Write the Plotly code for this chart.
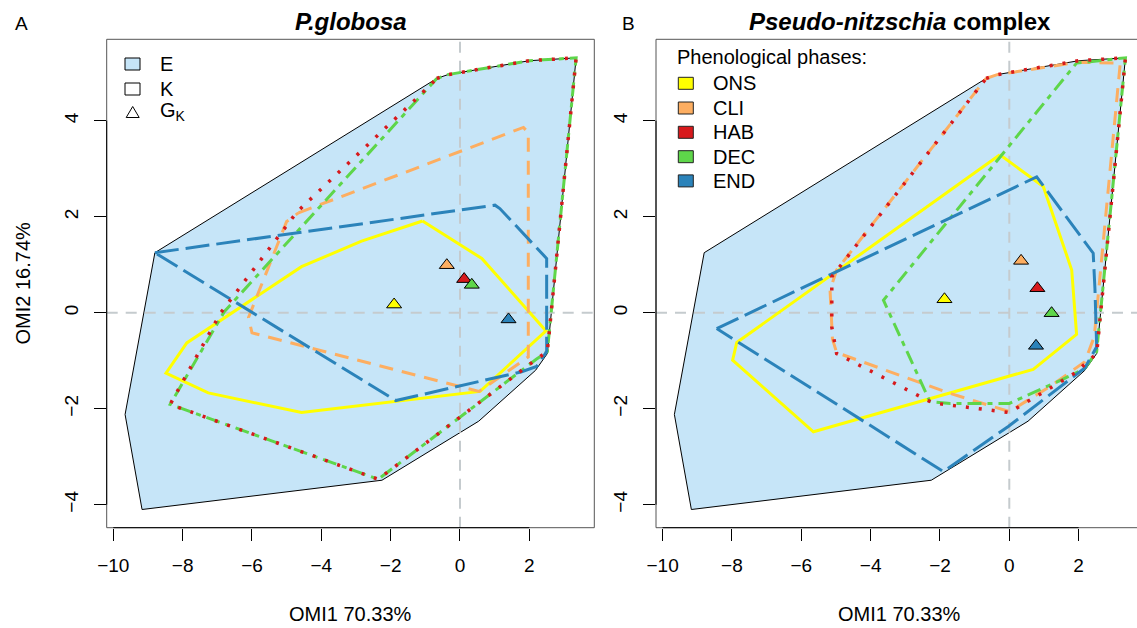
import plotly.graph_objects as go

W, H = 1137, 628
FONT = "Liberation Sans, Arial, sans-serif"

# ---------------- data ----------------
phases = ["ONS", "CLI", "HAB", "DEC", "END"]
phase_colors = ["#FFFF00", "#FDAE61", "#D7191C", "#5ED64A", "#2B83BA"]

# environmental hull E (same on both panels)
E_x = [-8.80, -0.67, -0.35, 2.00, 3.35, 2.52, 2.18, 0.54, -2.25, -9.17, -9.66]
E_y = [1.25, 4.88, 4.96, 5.25, 5.31, -0.85, -1.20, -2.26, -3.49, -4.10, -2.12]

# Panel A (P.globosa) niche hulls K
A_ONS_x = [-1.08, 0.63, 2.48, 0.58, -4.57, -7.26, -8.48, -7.88, -4.57, -2.84]
A_ONS_y = [1.91, 1.13, -0.38, -1.64, -2.08, -1.67, -1.26, -0.63, 0.96, 1.49]
A_CLI_x = [-4.66, 1.83, 1.97, 1.97, 0.55, -6.00, -6.10, -5.00]
A_CLI_y = [2.08, 3.86, 3.75, -0.92, -1.64, -0.42, -0.10, 1.90]
A_HAB_x = [-0.67, -0.35, 2.00, 3.35, 2.52, 2.20, -2.36, -8.36, -6.90, -4.70, -1.20]
A_HAB_y = [4.88, 4.96, 5.25, 5.31, -0.81, -0.97, -3.47, -1.91, 0.00, 2.10, 4.50]
A_DEC_x = [-0.67, -0.35, 2.00, 3.35, 2.52, 2.20, -2.36, -8.36, -6.80, -1.10]
A_DEC_y = [4.88, 4.96, 5.25, 5.31, -0.81, -0.97, -3.47, -1.91, 0.02, 4.54]
A_END_x = [-8.80, 1.01, 1.15, 2.50, 2.50, 2.21, 1.78, -1.85]
A_END_y = [1.25, 2.24, 2.17, 1.13, -0.81, -1.12, -1.23, -1.83]
A_GK_x = [-1.90, -0.38, 0.12, 0.34, 1.40]
A_GK_y = [0.17, 0.99, 0.70, 0.58, -0.14]

# Panel B (Pseudo-nitzschia complex) niche hulls K
B_ONS_x = [-0.27, 0.98, 1.80, 1.94, 0.69, -5.65, -7.98, -7.86]
B_ONS_y = [3.29, 2.63, 0.89, -0.45, -1.18, -2.48, -0.99, -0.62]
B_CLI_x = [-0.67, -0.35, 2.00, 3.20, 2.45, 2.18, 1.17, 0.00, -1.71, -4.98, -5.10, -5.17, -4.98]
B_CLI_y = [4.88, 4.96, 5.22, 5.20, -0.50, -1.02, -1.54, -2.06, -1.68, -0.83, -0.55, 0.47, 0.89]
B_HAB_x = [-0.67, -0.35, 2.00, 3.35, 2.52, 1.89, 0.00, -2.21, -4.98, -5.12, -5.12, -4.90]
B_HAB_y = [4.88, 4.96, 5.25, 5.31, -0.85, -1.26, -2.08, -1.88, -0.85, -0.30, 0.75, 0.95]
B_DEC_x = [1.94, 3.35, 2.52, 2.18, 1.51, 0.00, -1.71, -2.29, -3.63]
B_DEC_y = [5.20, 5.31, -0.81, -1.16, -1.40, -1.89, -1.89, -1.85, 0.26]
B_END_x = [-8.44, 0.79, 2.42, 2.47, 2.52, 2.18, -0.03, -1.90]
B_END_y = [-0.33, 2.83, 1.24, 0.50, -0.71, -1.15, -2.37, -3.31]
B_GK_x = [-1.87, 0.34, 0.81, 1.22, 0.77]
B_GK_y = [0.28, 1.08, 0.51, -0.01, -0.69]

x_ticks = [-10, -8, -6, -4, -2, 0, 2]
y_ticks = [-4, -2, 0, 2, 4]
x_label = "OMI1 70.33%"
y_label = "OMI2 16.74%"
titles = ["<b><i>P.globosa</i></b>", "<b><i>Pseudo-nitzschia</i> complex</b>"]
legend_A = ["E", "K", "G<sub>K</sub>"]
legend_B_title = "Phenological phases:"

# ---------------- layout geometry (pixels) ----------------
def px(x):
    return x / W

def py(y):
    return 1 - y / H

PL = [(106.7, 594.3), (656.0, 1137.0)]
PT, PB = 39.3, 527.7
XR = [[-10.19, 3.874], [-10.19, 3.683]]
YR = [-4.479, 5.696]

styles = {
    "ONS": dict(width=3, dash="solid"),
    "CLI": dict(width=3, dash="14px,9px"),
    "HAB": dict(width=3.5, dash="3px,10px"),
    "DEC": dict(width=3, dash="5px,6px,14px,6px"),
    "END": dict(width=3, dash="24px,7px"),
}
draw_order = ["ONS", "CLI", "DEC", "END", "HAB"]

panels = [
    dict(K={"ONS": (A_ONS_x, A_ONS_y), "CLI": (A_CLI_x, A_CLI_y), "HAB": (A_HAB_x, A_HAB_y),
            "DEC": (A_DEC_x, A_DEC_y), "END": (A_END_x, A_END_y)}, G=(A_GK_x, A_GK_y)),
    dict(K={"ONS": (B_ONS_x, B_ONS_y), "CLI": (B_CLI_x, B_CLI_y), "HAB": (B_HAB_x, B_HAB_y),
            "DEC": (B_DEC_x, B_DEC_y), "END": (B_END_x, B_END_y)}, G=(B_GK_x, B_GK_y)),
]

fig = go.Figure()


def close(v):
    return list(v) + [v[0]]


for i, p in enumerate(panels):
    xa = "x" if i == 0 else "x2"
    ya = "y" if i == 0 else "y2"
    # environmental hull
    fig.add_trace(go.Scatter(x=close(E_x), y=close(E_y), mode="lines", fill="toself",
                             fillcolor="#C6E5F8", line=dict(color="black", width=1),
                             xaxis=xa, yaxis=ya, hoverinfo="skip"))
    # reference lines at 0
    fig.add_trace(go.Scatter(x=[XR[i][0], XR[i][1]], y=[0, 0], mode="lines",
                             line=dict(color="#C5CBCE", width=2, dash="11px,8px"),
                             xaxis=xa, yaxis=ya, hoverinfo="skip"))
    fig.add_trace(go.Scatter(x=[0, 0], y=[YR[0], YR[1]], mode="lines",
                             line=dict(color="#C5CBCE", width=2, dash="11px,8px"),
                             xaxis=xa, yaxis=ya, hoverinfo="skip"))
    for ph in draw_order:
        kx, ky = p["K"][ph]
        col = phase_colors[phases.index(ph)]
        fig.add_trace(go.Scatter(x=close(kx), y=close(ky), mode="lines",
                                 line=dict(color=col, **styles[ph]),
                                 xaxis=xa, yaxis=ya, hoverinfo="skip"))
    gx, gy = p["G"]
    fig.add_trace(go.Scatter(x=gx, y=gy, mode="markers",
                             marker=dict(symbol="triangle-up", size=13, color=phase_colors,
                                         line=dict(color="black", width=1)),
                             xaxis=xa, yaxis=ya, hoverinfo="skip"))

axis_common = dict(showgrid=False, zeroline=False, showline=False, ticks="outside",
                   ticklen=12, tickcolor="black", tickwidth=1, automargin=False,
                   tickfont=dict(family=FONT, size=19, color="black"))

fig.update_layout(
    width=W, height=H, margin=dict(l=0, r=0, t=0, b=0, autoexpand=False),
    paper_bgcolor="white", plot_bgcolor="white", showlegend=False,
    xaxis=dict(domain=[px(PL[0][0]), px(PL[0][1])], range=XR[0], tickvals=x_ticks,
               anchor="y", ticklabelstandoff=8, **axis_common),
    yaxis=dict(domain=[py(PB), py(PT)], range=YR, tickvals=y_ticks, tickangle=-90,
               anchor="x", ticklabelstandoff=8, **axis_common),
    xaxis2=dict(domain=[px(PL[1][0]), px(PL[1][1])], range=XR[1], tickvals=x_ticks,
                anchor="y2", ticklabelstandoff=8, **axis_common),
    yaxis2=dict(domain=[py(PB), py(PT)], range=YR, tickvals=y_ticks, tickangle=-90,
                anchor="x2", ticklabelstandoff=8, **axis_common),
)

shapes = []
annotations = []
for i in range(2):
    xr = "x" if i == 0 else "x2"
    yr = "y" if i == 0 else "y2"
    l, r = PL[i]
    # frame (gray box)
    shapes.append(dict(type="line", xref="paper", yref="paper", x0=px(l), x1=px(r), y0=py(PT), y1=py(PT),
                       line=dict(color="#555555", width=1)))
    shapes.append(dict(type="line", xref="paper", yref="paper", x0=px(l), x1=px(r), y0=py(PB), y1=py(PB),
                       line=dict(color="#555555", width=1)))
    shapes.append(dict(type="line", xref="paper", yref="paper", x0=px(l), x1=px(l), y0=py(PB), y1=py(PT),
                       line=dict(color="#555555", width=1)))
    if i == 0:
        shapes.append(dict(type="line", xref="paper", yref="paper", x0=px(r), x1=px(r), y0=py(PB), y1=py(PT),
                           line=dict(color="#555555", width=1)))
    # axis lines (black) between first and last tick
    shapes.append(dict(type="line", xref=xr, yref="paper", x0=x_ticks[0], x1=x_ticks[-1],
                       y0=py(PB), y1=py(PB), line=dict(color="black", width=1)))
    shapes.append(dict(type="line", xref="paper", yref=yr, x0=px(l), x1=px(l),
                       y0=y_ticks[0], y1=y_ticks[-1], line=dict(color="black", width=1)))
    # titles
    cx = (l + (PL[i][0] + 487.6)) / 2
    annotations.append(dict(text=titles[i], x=px(cx), y=py(22), xref="paper", yref="paper",
                            showarrow=False, xanchor="center", yanchor="middle",
                            font=dict(family=FONT, size=24, color="black")))
    annotations.append(dict(text=x_label, x=px(cx), y=py(614), xref="paper", yref="paper",
                            showarrow=False, xanchor="center", yanchor="middle",
                            font=dict(family=FONT, size=20, color="black")))

annotations.append(dict(text=y_label, x=px(22), y=py((PT + PB) / 2), xref="paper", yref="paper",
                        showarrow=False, textangle=-90, xanchor="center", yanchor="middle",
                        font=dict(family=FONT, size=20, color="black")))
annotations.append(dict(text="A", x=px(21), y=py(24), xref="paper", yref="paper",
                        showarrow=False, xanchor="center", yanchor="middle",
                        font=dict(family=FONT, size=19, color="black")))
annotations.append(dict(text="B", x=px(628), y=py(24), xref="paper", yref="paper",
                        showarrow=False, xanchor="center", yanchor="middle",
                        font=dict(family=FONT, size=19, color="black")))

# legend A
legA_y = [64, 89, 112]
shapes.append(dict(type="rect", xref="paper", yref="paper", x0=px(125), x1=px(140),
                   y0=py(legA_y[0] + 6), y1=py(legA_y[0] - 6), fillcolor="#C6E5F8",
                   line=dict(color="black", width=1)))
shapes.append(dict(type="rect", xref="paper", yref="paper", x0=px(125), x1=px(140),
                   y0=py(legA_y[1] + 6), y1=py(legA_y[1] - 6), fillcolor="white",
                   line=dict(color="black", width=1)))
tri = "M {} {} L {} {} L {} {} Z".format(px(126.2), py(legA_y[2] + 5.5), px(139.2), py(legA_y[2] + 5.5),
                                        px(132.7), py(legA_y[2] - 5.5))
shapes.append(dict(type="path", xref="paper", yref="paper", path=tri, fillcolor="white",
                   line=dict(color="black", width=1)))
for t, yy in zip(legend_A, legA_y):
    annotations.append(dict(text=t, x=px(158), y=py(yy), xref="paper", yref="paper",
                            showarrow=False, xanchor="left", yanchor="middle",
                            font=dict(family=FONT, size=20, color="black")))

# legend B
annotations.append(dict(text=legend_B_title, x=px(675), y=py(57), xref="paper", yref="paper",
                        showarrow=False, xanchor="left", yanchor="middle",
                        font=dict(family=FONT, size=20, color="black")))
legB_y = [83.3, 108.0, 132.3, 156.7, 180.9]
for ph, col, yy in zip(phases, phase_colors, legB_y):
    shapes.append(dict(type="rect", xref="paper", yref="paper", x0=px(678.3), x1=px(693.3),
                       y0=py(yy + 6), y1=py(yy - 6), fillcolor=col,
                       line=dict(color="#222222", width=1)))
    annotations.append(dict(text=ph, x=px(711), y=py(yy), xref="paper", yref="paper",
                            showarrow=False, xanchor="left", yanchor="middle",
                            font=dict(family=FONT, size=20, color="black")))

fig.update_layout(shapes=shapes, annotations=annotations)
fig.write_html("out.html")
